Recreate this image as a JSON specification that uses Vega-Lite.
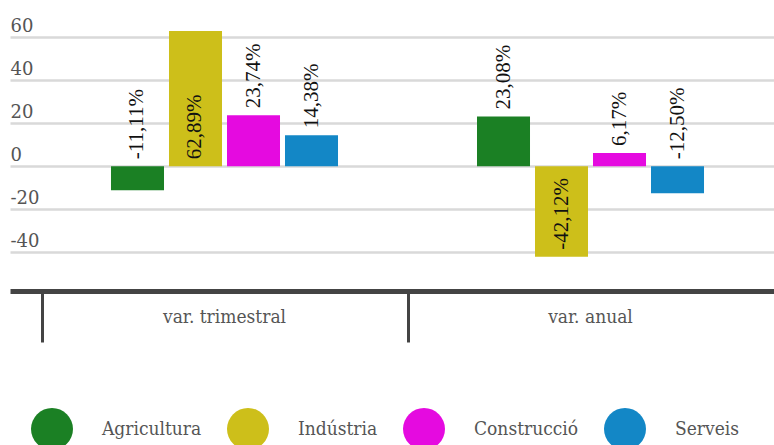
{
  "$schema": "https://vega.github.io/schema/vega-lite/v6.json",
  "autosize": {"type": "none"},
  "width": 764,
  "height": 271,
  "padding": {"left": 10, "top": 20, "right": 0, "bottom": 154},
  "background": "white",
  "config": {
    "view": {"stroke": null},
    "axisY": {
      "domain": false,
      "ticks": false,
      "tickSize": 0,
      "labelAlign": "left",
      "labelPadding": 0,
      "labelBaseline": "alphabetic",
      "labelOffset": -6,
      "labelFont": "DejaVu Serif",
      "labelFontSize": 18,
      "labelColor": "#555555",
      "gridColor": "#d9d9d9",
      "gridWidth": 2.5
    }
  },
  "data": {
    "values": [
      {"grup": "var. trimestral", "sector": "Agricultura", "v": -11.11, "lab": "-11,11%"},
      {"grup": "var. trimestral", "sector": "Indústria", "v": 62.89, "lab": "62,89%"},
      {"grup": "var. trimestral", "sector": "Construcció", "v": 23.74, "lab": "23,74%"},
      {"grup": "var. trimestral", "sector": "Serveis", "v": 14.38, "lab": "14,38%"},
      {"grup": "var. anual", "sector": "Agricultura", "v": 23.08, "lab": "23,08%"},
      {"grup": "var. anual", "sector": "Indústria", "v": -42.12, "lab": "-42,12%"},
      {"grup": "var. anual", "sector": "Construcció", "v": 6.17, "lab": "6,17%"},
      {"grup": "var. anual", "sector": "Serveis", "v": -12.5, "lab": "-12,50%"}
    ]
  },
  "encoding": {
    "x": {
      "field": "grup",
      "type": "nominal",
      "sort": ["var. trimestral", "var. anual"],
      "title": null,
      "scale": {"paddingInner": 0.0628, "paddingOuter": 0.0751, "align": 0.782},
      "axis": {
        "bandPosition": -0.02915,
        "labelAngle": 0,
        "domainColor": "#444444",
        "domainWidth": 5,
        "tickColor": "#444444",
        "tickWidth": 3,
        "tickSize": 51,
        "labelPadding": -26,
        "labelBaseline": "middle",
        "labelFont": "DejaVu Serif Condensed",
        "labelFontSize": 19,
        "labelColor": "#555555",
        "grid": false
      }
    },
    "xOffset": {
      "field": "sector",
      "type": "nominal",
      "sort": ["Agricultura", "Indústria", "Construcció", "Serveis"],
      "scale": {"paddingInner": 0.086, "paddingOuter": 1}
    }
  },
  "layer": [
    {
      "mark": {"type": "bar"},
      "encoding": {
        "y": {
          "field": "v",
          "type": "quantitative",
          "title": null,
          "scale": {"domain": [-58, 68], "nice": false},
          "axis": {"values": [60, 40, 20, 0, -20, -40], "labelExpr": "'' + datum.value", "title": null}
        },
        "color": {
          "field": "sector",
          "type": "nominal",
          "sort": ["Agricultura", "Indústria", "Construcció", "Serveis"],
          "scale": {
            "domain": ["Agricultura", "Indústria", "Construcció", "Serveis"],
            "range": ["#1b8024", "#cdbf1a", "#e50ae0", "#1387c6"]
          },
          "legend": {
            "orient": "none",
            "legendX": 21,
            "legendY": 388,
            "direction": "horizontal",
            "columns": 4,
            "title": null,
            "symbolType": "circle",
            "symbolSize": 1764,
            "symbolStrokeWidth": 0,
            "symbolOpacity": 1,
            "labelFont": "DejaVu Serif Condensed",
            "labelFontSize": 19,
            "labelColor": "#555555",
            "labelOffset": 29,
            "columnPadding": 25,
            "padding": 0
          }
        }
      }
    },
    {
      "transform": [{"filter": "(datum.v > 0 && datum.sector != 'Indústria') || (datum.v < 0 && datum.sector == 'Indústria')"}],
      "mark": {"type": "text", "angle": 270, "align": "left", "baseline": "middle", "dx": 7, "font": "Liberation Serif", "fontSize": 21, "color": "#111111"},
      "encoding": {
        "y": {"field": "v", "type": "quantitative", "title": null, "axis": {"values": [60, 40, 20, 0, -20, -40], "labelExpr": "'' + datum.value", "title": null}},
        "text": {"field": "lab"}
      }
    },
    {
      "transform": [{"filter": "!((datum.v > 0 && datum.sector != 'Indústria') || (datum.v < 0 && datum.sector == 'Indústria'))"}],
      "mark": {"type": "text", "angle": 270, "align": "left", "baseline": "middle", "dx": 7, "font": "Liberation Serif", "fontSize": 21, "color": "#111111"},
      "encoding": {
        "y": {"datum": 0, "type": "quantitative", "title": null, "axis": {"values": [60, 40, 20, 0, -20, -40], "labelExpr": "'' + datum.value", "title": null}},
        "text": {"field": "lab"}
      }
    }
  ]
}
